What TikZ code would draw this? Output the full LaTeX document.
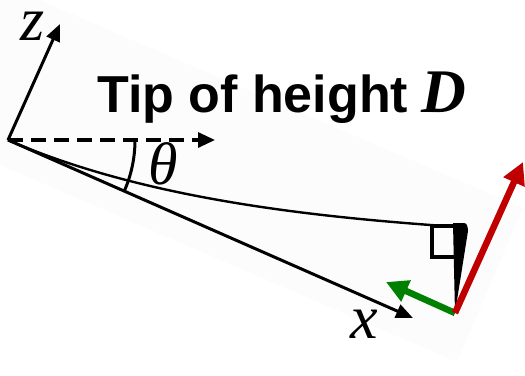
\documentclass[tikz,border=0pt]{standalone}
\usepackage{fontspec}
\setmainfont{Liberation Serif}
\newfontfamily\headfont{Liberation Sans}
\usetikzlibrary{arrows.meta}
\definecolor{bgc}{RGB}{252,252,252}
\definecolor{tipred}{RGB}{192,0,0}
\definecolor{tipgreen}{RGB}{0,128,0}
\begin{document}
\begin{tikzpicture}[x=1pt,y=-1pt,
  axis/.style={line width=3pt,-{Triangle[length=17pt,width=14pt]}},
  dashaxis/.style={line width=3.2pt,dash pattern=on 15pt off 8pt,-{Triangle[length=17pt,width=15pt]}},
  force/.style={line width=6.5pt,-{Triangle[length=22pt,width=22pt]}},
  lbl/.style={inner sep=0pt,font=\fontsize{62}{70}\selectfont\itshape},
  head/.style={inner sep=0pt,anchor=base west,font=\fontsize{52}{60}\selectfont\headfont\bfseries}]
\useasboundingbox (0,0) rectangle (525,375);
\begin{scope}
  \clip (0,0) rectangle (525,375);
  \fill[bgc] (-100,-60) -- (523,208) -- (457,362) -- (-100,122) -- cycle;
\end{scope}
\coordinate (O) at (8,140);
\coordinate (zt) at (60,24);
\coordinate (xt) at (413,318);
\coordinate (dt) at (215,140);
\coordinate (B) at (458,227);
\coordinate (P) at (455,313);
\coordinate (gt) at (386,282);
\coordinate (rt) at (523,162);
% axes
\draw[axis] (O) -- (zt);
\draw[axis] (O) -- (xt);
\draw[dashaxis] (O) -- (dt);
% angle
\draw[line width=3pt] (135,140) arc[start angle=0,end angle=23.7,radius=127];
% beam
\draw[line width=2.4pt] (O) .. controls (150,202) and (330,218) .. (B);
% right angle marker and tip
\draw[line width=4.5pt] (456,226) -- (432,226) -- (432,257) -- (455,257);
\fill (453,223) -- (464,223) to[out=0,in=95] (468,231) -- (P) -- cycle;
% force arrows
\draw[force,tipgreen] (P) -- (gt);
\draw[force,tipred] (P) -- (rt);
% labels
\node[lbl] (zl) at (33,26) {z};
\node[lbl] (xl) at (364,324) {x};
\node[inner sep=0pt,font=\fontsize{60}{68}\selectfont\itshape] (th) at (163,164) {θ};
\node[head] (title) at (97,112) {Tip of height};
\node[inner sep=0pt,anchor=base west,font=\fontsize{62}{70}\selectfont\itshape\bfseries] (D) at (421,112) {D};
\end{tikzpicture}
\end{document}
